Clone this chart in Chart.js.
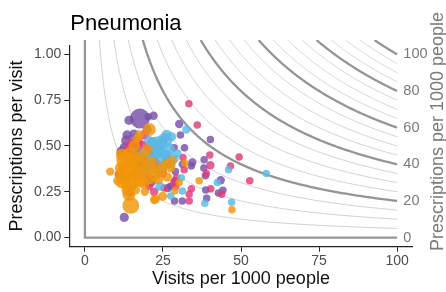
<!DOCTYPE html>
<html lang="en">
<head>
    <meta charset="UTF-8">
    <title>Pneumonia</title>
    <script src="https://cdn.jsdelivr.net/npm/chart.js"></script>
    <style>
        body {
            margin: 0;
            background: #fff;
        }
        canvas {
            display: block;
        }
    </style>
</head>
<body>
    <canvas id="chart" width="446" height="292"></canvas>

    <script>
        // [visits per 1000 people, prescriptions per visit, population]
        const orangePts = [
            [8.1, 0.36, 2.5], [10.5, 0.31, 3], [11.5, 0.38, 5], [12.3, 0.34, 9], [13.0, 0.42, 12],
            [13.8, 0.37, 14], [14.5, 0.45, 9], [15.2, 0.32, 12], [16.5, 0.40, 12], [15.8, 0.50, 5],
            [17.2, 0.35, 9], [14.2, 0.29, 9], [13.6, 0.26, 5], [14.1, 0.235, 6], [14.7, 0.175, 10],
            [16.7, 0.54, 2.5], [17.5, 0.56, 3], [18.3, 0.44, 6], [18.8, 0.30, 5], [19.8, 0.37, 5],
            [20.6, 0.59, 6], [20.0, 0.48, 4], [21.2, 0.41, 5], [22.2, 0.35, 7], [23.5, 0.32, 4],
            [24.2, 0.37, 6], [26.0, 0.40, 4], [27.5, 0.38, 3], [28.0, 0.42, 3], [26.4, 0.33, 3],
            [16.2, 0.26, 3], [19.2, 0.25, 2.5], [22.6, 0.21, 3], [24.9, 0.225, 3], [22.2, 0.205, 2.5],
            [28.8, 0.255, 2], [30.2, 0.30, 2], [32.0, 0.405, 2], [36.6, 0.31, 2], [47.1, 0.152, 2],
            [12.0, 0.45, 6], [15.0, 0.42, 8], [17.8, 0.31, 6], [11.8, 0.30, 5], [20.8, 0.32, 4]
        ];
        const bluePts = [
            [17.5, 0.35, 4], [19.2, 0.375, 5], [18.6, 0.46, 3], [20.5, 0.53, 3], [21.0, 0.42, 4],
            [22.0, 0.46, 6], [22.5, 0.37, 3], [23.3, 0.51, 9], [24.6, 0.44, 7], [25.6, 0.53, 8],
            [26.8, 0.48, 6], [26.2, 0.56, 4], [27.8, 0.55, 3], [25.0, 0.39, 4], [27.6, 0.40, 3],
            [28.6, 0.43, 3], [29.6, 0.46, 2.5], [24.0, 0.28, 3], [27.5, 0.227, 2], [30.9, 0.327, 2],
            [31.2, 0.254, 2], [32.5, 0.59, 2.5], [38.4, 0.187, 2], [42.4, 0.30, 2], [46.0, 0.37, 2],
            [47.0, 0.192, 2], [58.1, 0.35, 2], [23.8, 0.47, 6], [21.8, 0.52, 4], [26.0, 0.45, 5]
        ];
        const pinkPts = [
            [11.2, 0.345, 4], [13.0, 0.46, 4], [14.9, 0.50, 6], [16.5, 0.52, 6], [18.5, 0.50, 4],
            [15.5, 0.40, 3], [18.0, 0.34, 3], [19.0, 0.56, 3], [21.0, 0.48, 4], [23.0, 0.40, 3],
            [20.5, 0.28, 2.5], [22.2, 0.25, 2.5], [25.0, 0.35, 2.5], [25.4, 0.27, 2], [28.5, 0.30, 2],
            [29.1, 0.278, 2], [29.3, 0.327, 2], [31.8, 0.37, 2], [31.4, 0.437, 2], [33.3, 0.73, 2],
            [34.1, 0.267, 2], [33.4, 0.236, 2], [33.4, 0.20, 2], [36.0, 0.615, 2], [38.9, 0.35, 2],
            [40.0, 0.45, 2], [40.2, 0.395, 2.5], [40.3, 0.267, 2], [43.8, 0.236, 2], [46.6, 0.39, 2],
            [49.4, 0.44, 2], [52.8, 0.31, 2]
        ];
        const purplePts = [
            [11.8, 0.47, 4], [12.8, 0.49, 4], [12.6, 0.11, 3], [13.3, 0.53, 4], [13.5, 0.56, 3],
            [14.1, 0.64, 3], [14.4, 0.245, 2.5], [15.7, 0.565, 3], [16.0, 0.46, 6], [17.6, 0.65, 14],
            [17.0, 0.38, 5], [18.0, 0.43, 8], [19.5, 0.40, 6], [19.9, 0.59, 3], [20.0, 0.33, 4],
            [20.3, 0.66, 2], [20.8, 0.31, 6], [21.5, 0.52, 3], [22.0, 0.665, 2.5], [22.0, 0.44, 4],
            [23.5, 0.50, 3], [24.0, 0.47, 2.5], [25.0, 0.53, 3], [26.0, 0.44, 2.5], [26.6, 0.27, 2.5],
            [27.4, 0.28, 2], [28.6, 0.49, 2], [28.7, 0.20, 2], [28.8, 0.31, 2], [29.0, 0.36, 2],
            [30.2, 0.62, 2.5], [30.6, 0.56, 2], [31.2, 0.40, 2], [31.2, 0.20, 2], [31.9, 0.49, 2],
            [34.1, 0.39, 2], [34.4, 0.41, 2.5], [38.1, 0.38, 2], [38.2, 0.425, 2], [38.6, 0.337, 2],
            [38.7, 0.26, 2], [39.0, 0.214, 2], [40.2, 0.535, 2], [42.8, 0.243, 2], [43.5, 0.313, 2.5],
            [44.2, 0.258, 2]
        ];

        const xTicks = [0, 25, 50, 75, 100];
        const yTicks = [0, 0.25, 0.5, 0.75, 1];
        // prescriptions per 1000 people (= visits x prescriptions per visit)
        const rateTicks = [0, 20, 40, 60, 80, 100];
        const rateMinor = [5, 10, 15, 25, 30, 35, 45, 50, 55, 65, 70, 75, 85, 90, 95];

        const FONT = '"Liberation Sans", Arial, Helvetica, sans-serif';

        function bubbles(pts) {
            return pts.map(p => ({ x: p[0], y: p[1], r: 2.65 * Math.sqrt(p[2]) }));
        }

        // hyperbolas x*y = k drawn behind the points
        const isolines = {
            id: 'isolines',
            beforeDatasetsDraw(chart) {
                const { ctx, chartArea: a, scales: { x, y } } = chart;
                const clipTop = 40;
                const yTop = y.getValueForPixel(clipTop);
                ctx.save();
                ctx.beginPath();
                ctx.rect(a.left, clipTop, a.right - a.left, a.bottom - clipTop);
                ctx.clip();
                ctx.lineCap = 'butt';

                function curve(k) {
                    ctx.beginPath();
                    if (k === 0) {
                        ctx.moveTo(x.getPixelForValue(0), y.getPixelForValue(yTop));
                        ctx.lineTo(x.getPixelForValue(0), y.getPixelForValue(0));
                        ctx.lineTo(x.getPixelForValue(100), y.getPixelForValue(0));
                    } else {
                        const x0 = k / yTop;
                        const n = 160;
                        for (let i = 0; i <= n; i++) {
                            const v = x0 * Math.pow(100 / x0, i / n);
                            const px = x.getPixelForValue(v);
                            const py = y.getPixelForValue(k / v);
                            if (i === 0) ctx.moveTo(px, py); else ctx.lineTo(px, py);
                        }
                    }
                    ctx.stroke();
                }

                ctx.strokeStyle = '#cccccc';
                ctx.lineWidth = 0.9;
                rateMinor.forEach(curve);
                ctx.strokeStyle = '#959595';
                ctx.lineWidth = 2.3;
                rateTicks.forEach(curve);
                ctx.restore();
            }
        };

        // title, right-hand rate labels and their axis title
        const decorations = {
            id: 'decorations',
            afterDraw(chart) {
                const { ctx, chartArea: a, scales: { x, y } } = chart;
                ctx.save();
                ctx.fillStyle = '#000';
                ctx.font = '22px ' + FONT;
                ctx.textAlign = 'left';
                ctx.textBaseline = 'alphabetic';
                ctx.fillText('Pneumonia', a.left + 1, 30);

                ctx.fillStyle = '#7a7a7a';
                ctx.font = '14.5px ' + FONT;
                ctx.textBaseline = 'middle';
                const lx = x.getPixelForValue(102);
                rateTicks.forEach(k => {
                    ctx.fillText(String(k), lx, y.getPixelForValue(k / 100));
                });

                ctx.font = '18px ' + FONT;
                ctx.textAlign = 'center';
                ctx.translate(438, 131.5);
                ctx.rotate(-Math.PI / 2);
                ctx.fillText('Prescriptions per 1000 people', 0, 0);
                ctx.restore();
            }
        };

        const tickFont = { family: FONT, size: 14 };
        const titleFont = { family: FONT, size: 18 };

        new Chart(document.getElementById('chart'), {
            type: 'bubble',
            data: {
                datasets: [
                    { data: bubbles(orangePts), backgroundColor: 'rgba(241, 150, 10, 0.82)' },
                    { data: bubbles(bluePts), backgroundColor: 'rgba(90, 186, 228, 0.82)' },
                    { data: bubbles(pinkPts), backgroundColor: 'rgba(223, 60, 122, 0.82)' },
                    { data: bubbles(purplePts), backgroundColor: 'rgba(120, 80, 170, 0.82)' }
                ].map(d => Object.assign(d, { borderWidth: 0, hoverRadius: 0 }))
            },
            options: {
                responsive: false,
                animation: false,
                events: [],
                layout: { padding: { top: 45.2, right: 33.3, left: 0, bottom: 0 } },
                plugins: {
                    legend: { display: false },
                    tooltip: { enabled: false }
                },
                scales: {
                    x: {
                        type: 'linear',
                        min: -5,
                        max: 105,
                        afterBuildTicks: s => { s.ticks = xTicks.map(v => ({ value: v })); },
                        afterFit: s => { s.height = 45.3; },
                        ticks: { font: tickFont, color: '#4d4d4d', padding: 1, maxRotation: 0, callback: v => String(v) },
                        grid: { drawOnChartArea: false, tickLength: 5, tickColor: '#222', lineWidth: 1 },
                        border: { color: '#222', width: 1.2 },
                        title: { display: true, text: 'Visits per 1000 people', font: titleFont, color: '#111', padding: { top: 0, bottom: 2 } }
                    },
                    y: {
                        type: 'linear',
                        min: -0.05,
                        max: 1.05,
                        afterBuildTicks: s => { s.ticks = yTicks.map(v => ({ value: v })); },
                        afterFit: s => { s.width = 69.3; },
                        ticks: { font: tickFont, color: '#4d4d4d', padding: 3, callback: v => v.toFixed(2) },
                        grid: { drawOnChartArea: false, tickLength: 5, tickColor: '#222', lineWidth: 1 },
                        border: { color: '#222', width: 1.2 },
                        title: { display: true, text: 'Prescriptions per visit', font: titleFont, color: '#111', padding: { top: 6, bottom: 0 } }
                    }
                }
            },
            plugins: [isolines, decorations]
        });
    </script>
</body>
</html>
